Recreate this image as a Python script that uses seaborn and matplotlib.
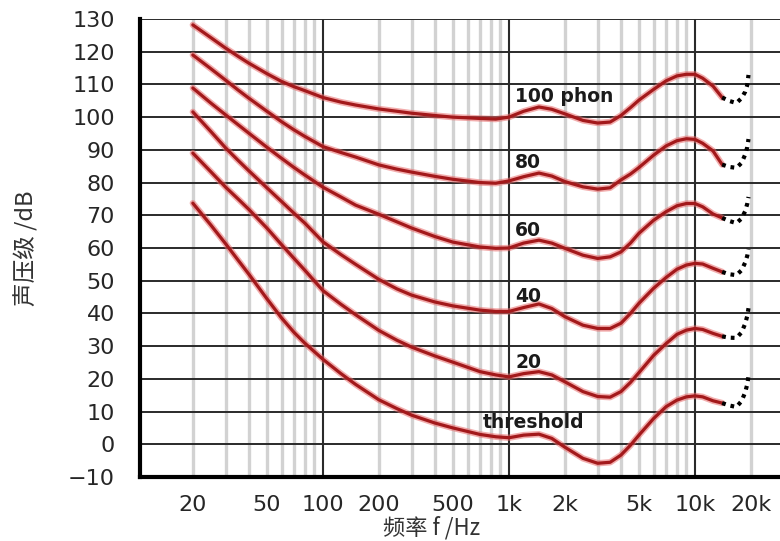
import numpy as np
import pandas as pd
import seaborn as sns
import matplotlib.pyplot as plt

# equal loudness contours (Hz, dB)
freqs = [20, 25, 30, 35, 40, 50, 60, 70, 80, 100,
         125, 150, 200, 250, 300, 400, 500, 700, 850, 1000,
         1200, 1450, 1700, 2000, 2500, 3000, 3500, 4000, 4500, 5000,
         6000, 7000, 8000, 9000, 10000, 11000, 12500, 14000]

phon_100 = [128.2, 124.3, 121.1, 118.6, 116.5, 113.3, 110.9, 109.3, 108.1, 106.0,
            104.6, 103.7, 102.5, 101.8, 101.2, 100.5, 100.0, 99.6, 99.4, 100.0,
            101.8, 103.1, 102.4, 101.0, 99.0, 98.2, 98.5, 100.5, 102.9, 105.2,
            108.5, 111.1, 112.6, 113.1, 113.1, 111.9, 109.5, 106.0]
phon_80 = [119.0, 114.8, 111.3, 108.3, 105.8, 101.8, 98.6, 96.1, 94.1, 91.0,
           89.2, 87.8, 85.4, 84.1, 83.2, 81.9, 81.0, 80.0, 79.8, 80.5,
           81.8, 82.9, 82.0, 80.3, 78.7, 78.0, 78.4, 80.8, 82.6, 84.6,
           88.4, 91.2, 92.8, 93.4, 93.2, 92.0, 89.7, 85.5]
phon_60 = [108.9, 104.3, 100.7, 97.7, 95.1, 90.8, 87.4, 84.6, 82.3, 78.6,
           75.6, 73.1, 70.3, 68.0, 66.1, 63.5, 61.8, 60.3, 59.9, 60.0,
           61.5, 62.4, 61.5, 59.9, 57.8, 56.8, 57.3, 58.8, 61.5, 64.5,
           68.5, 71.1, 72.9, 73.6, 73.6, 72.6, 70.4, 69.2]
phon_40 = [101.6, 95.6, 90.6, 86.8, 83.6, 78.4, 74.2, 70.6, 67.6, 61.9,
           58.0, 55.0, 50.4, 47.5, 45.6, 43.5, 42.3, 41.0, 40.6, 40.6,
           41.8, 42.9, 41.5, 39.0, 36.4, 35.4, 35.4, 37.0, 40.0, 43.1,
           47.7, 51.0, 53.5, 54.8, 55.3, 55.1, 53.8, 52.7]
phon_20 = [89.0, 83.3, 78.6, 75.0, 71.8, 66.1, 61.0, 56.8, 53.2, 47.0,
           42.8, 39.6, 34.8, 31.8, 29.7, 27.0, 25.1, 22.2, 21.2, 20.6,
           21.6, 22.2, 21.2, 19.1, 16.1, 14.6, 14.4, 16.1, 18.9, 21.9,
           27.2, 30.8, 33.6, 34.9, 35.4, 35.1, 33.9, 33.0]
threshold = [73.7, 67.0, 61.3, 56.3, 52.0, 44.5, 38.6, 34.2, 30.9, 26.0,
             21.6, 18.3, 13.6, 10.9, 8.9, 6.5, 5.0, 3.0, 2.3, 2.0,
             2.8, 3.1, 1.8, -0.9, -4.3, -5.8, -5.5, -3.3, -0.3, 2.8,
             7.9, 11.5, 13.5, 14.5, 14.8, 14.5, 13.3, 12.6]

# dotted tails above 14 kHz
tail_freqs = [14000, 15200, 16700, 17800, 18600, 19100, 19400]
tail_100 = [106.0, 105.0, 104.3, 105.8, 107.7, 109.8, 112.9]
tail_80 = [85.5, 84.8, 84.5, 86.0, 88.5, 90.8, 93.3]
tail_60 = [69.2, 68.3, 67.6, 69.0, 71.2, 73.5, 75.6]
tail_40 = [52.7, 52.0, 51.7, 53.2, 55.5, 57.6, 59.7]
tail_20 = [33.0, 32.6, 32.5, 34.2, 36.8, 39.2, 41.6]
tail_thr = [12.6, 11.9, 11.4, 13.2, 15.8, 18.3, 20.8]

curves = [phon_100, phon_80, phon_60, phon_40, phon_20, threshold]
tails = [tail_100, tail_80, tail_60, tail_40, tail_20, tail_thr]

labels = ['100 phon', '80', '60', '40', '20', 'threshold']
label_f = [1080, 1080, 1080, 1080, 1080, 725]
label_db = [106.2, 86.0, 65.2, 45.3, 25.0, 6.8]

xtick_vals = [20, 50, 100, 200, 500, 1000, 2000, 5000, 10000, 20000]
xtick_text = ['20', '50', '100', '200', '500', '1k', '2k', '5k', '10k', '20k']

sns.set_style('white')
plt.rcParams['font.family'] = ['DejaVu Sans']

fig = plt.figure(figsize=(7.8, 5.41), dpi=100)
ax = fig.add_axes([140 / 780, 64 / 541, 640 / 780, 458 / 541])
ax.set_xscale('log')

# grid lines
light = [20, 30, 40, 50, 60, 70, 80, 90,
         200, 300, 400, 500, 600, 700, 800, 900,
         2000, 3000, 4000, 5000, 6000, 7000, 8000, 9000, 20000]
for v in light:
    ax.axvline(v, color='#d2d2d2', lw=2.4, zorder=0)
for v in [100, 1000, 10000]:
    ax.axvline(v, color='#2a2a2a', lw=1.5, zorder=1)
ax.yaxis.grid(True, color='#2a2a2a', lw=1.4, zorder=1)
ax.set_axisbelow(True)

for vals, tail in zip(curves, tails):
    sns.lineplot(x=freqs, y=vals, color='#e86a6a', lw=4.6, alpha=0.55, ax=ax, zorder=3)
    sns.lineplot(x=freqs, y=vals, color='#a3191b', lw=2.3, ax=ax, zorder=4)
    sns.lineplot(x=tail_freqs, y=tail, color='black', lw=3.0, ax=ax, zorder=4,
                 linestyle=(0, (0.9, 1.2)))

for txt, f, db in zip(labels, label_f, label_db):
    ax.text(f, db, txt, fontsize=13.5, fontweight='bold', color='#1a1a1a',
            ha='left', va='center', zorder=5)

ax.set_xlim(10.4, 28650)
ax.set_ylim(-10, 130)
ax.set_yticks(np.arange(-10, 131, 10))
ax.set_xticks(xtick_vals)
ax.set_xticklabels(xtick_text)
ax.minorticks_off()
ax.tick_params(axis='y', direction='out', length=5, width=1.5, color='#222', pad=13, labelsize=16)
ax.tick_params(axis='x', direction='out', length=5, width=1.5, color='#999', pad=8, labelsize=16)

for s in ['top', 'right']:
    ax.spines[s].set_visible(False)
for s in ['left', 'bottom']:
    ax.spines[s].set_color('black')
    ax.spines[s].set_linewidth(3)

cjk = ['Noto Sans CJK SC', 'DejaVu Sans']
ax.set_xlabel('频率 f /Hz', family=cjk, fontsize=16, color='#333')
ax.set_ylabel('声压级 /dB', family=cjk, fontsize=17, color='#333')
ax.xaxis.set_label_coords(0.456, -0.085)
ax.yaxis.set_label_coords(-0.158, 0.5)

fig.savefig('out.png', dpi=100)
